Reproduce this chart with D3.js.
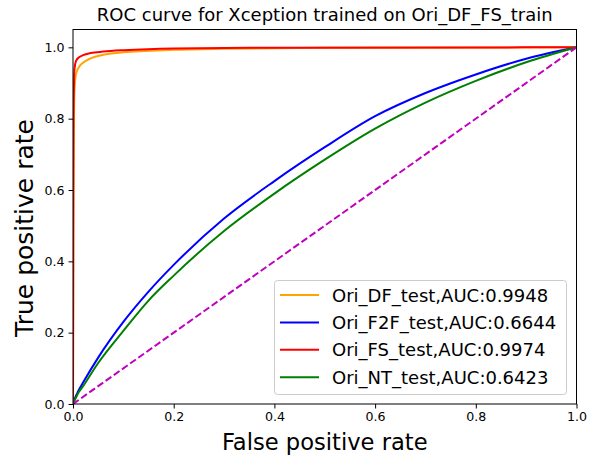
<!DOCTYPE html>
<html><head><meta charset="utf-8">
<script src="https://cdn.jsdelivr.net/npm/d3@7"></script>
<style>body{margin:0;background:#fff}svg{display:block;font-family:"DejaVu Sans",sans-serif}</style>
</head><body><div id="chart"></div>
<script>
const title = "ROC curve for Xception trained on Ori_DF_FS_train";
const xLabel = "False positive rate";
const yLabel = "True positive rate";
const tickValues = [0, 0.2, 0.4, 0.6, 0.8, 1.0];
const seriesNames = ["Ori_DF_test,AUC:0.9948", "Ori_F2F_test,AUC:0.6644", "Ori_FS_test,AUC:0.9974", "Ori_NT_test,AUC:0.6423"];
const seriesColors = ["#FFA500", "#0000FF", "#FF0000", "#008000"];
const dfFpr = [0, 0.0005, 0.001, 0.002, 0.003, 0.006, 0.012, 0.02, 0.035, 0.06, 0.1, 0.2, 0.3, 0.5, 1.0];
const dfTpr = [0, 0.3, 0.6, 0.8, 0.88, 0.925, 0.945, 0.957, 0.969, 0.979, 0.986, 0.993, 0.996, 0.999, 1.0];
const f2fFpr = [0, 0.005, 0.01, 0.02, 0.05, 0.1, 0.15, 0.2, 0.3, 0.4, 0.5, 0.6, 0.7, 0.8, 0.9, 1.0];
const f2fTpr = [0, 0.02, 0.035, 0.06, 0.13, 0.23, 0.315, 0.39, 0.52, 0.625, 0.72, 0.807, 0.872, 0.924, 0.968, 1.0];
const fsFpr = [0, 0.0005, 0.001, 0.002, 0.003, 0.006, 0.012, 0.02, 0.035, 0.06, 0.1, 0.2, 0.4, 1.0];
const fsTpr = [0, 0.5, 0.8, 0.9, 0.94, 0.962, 0.972, 0.978, 0.984, 0.988, 0.992, 0.997, 0.999, 1.0];
const ntFpr = [0, 0.005, 0.01, 0.02, 0.05, 0.1, 0.15, 0.2, 0.3, 0.4, 0.5, 0.6, 0.7, 0.8, 0.9, 1.0];
const ntTpr = [0, 0.015, 0.03, 0.05, 0.115, 0.205, 0.29, 0.36, 0.485, 0.59, 0.685, 0.772, 0.845, 0.906, 0.958, 1.0];
const chanceX = [0, 1];
const chanceY = [0, 1];

const W = 592, H = 459;
const L = 73, R = 576.5, T = 29.5, B = 404;
const svg = d3.select("#chart").append("svg").attr("width", W).attr("height", H);
const x = d3.scaleLinear().domain([0, 1]).range([L, R]);
const y = d3.scaleLinear().domain([0, 1.05]).range([B, T]);

const series = [
  {name: seriesNames[0], color: seriesColors[0], xs: dfFpr, ys: dfTpr},
  {name: seriesNames[1], color: seriesColors[1], xs: f2fFpr, ys: f2fTpr},
  {name: seriesNames[2], color: seriesColors[2], xs: fsFpr, ys: fsTpr},
  {name: seriesNames[3], color: seriesColors[3], xs: ntFpr, ys: ntTpr}
];

svg.append("defs").append("clipPath").attr("id", "clip")
  .append("rect").attr("x", L).attr("y", T).attr("width", R - L).attr("height", B - T);

const plot = svg.append("g").attr("clip-path", "url(#clip)");
const line = d3.line().x(d => x(d[0])).y(d => y(d[1])).curve(d3.curveMonotoneX);

series.forEach(s => {
  plot.append("path")
    .datum(s.xs.map((v, i) => [v, s.ys[i]]))
    .attr("d", line).attr("fill", "none")
    .attr("stroke", s.color).attr("stroke-width", 2).attr("stroke-linejoin", "round");
});
plot.append("path")
  .datum(chanceX.map((v, i) => [v, chanceY[i]]))
  .attr("d", d3.line().x(d => x(d[0])).y(d => y(d[1])))
  .attr("fill", "none").attr("stroke", "#BF00BF").attr("stroke-width", 2)
  .attr("stroke-dasharray", "7,3");

const fmt = d3.format(".1f");
const xAxis = svg.append("g").attr("transform", `translate(0,${B})`)
  .call(d3.axisBottom(x).tickValues(tickValues).tickFormat(fmt).tickSize(4.5).tickPadding(4));
const yAxis = svg.append("g").attr("transform", `translate(${L},0)`)
  .call(d3.axisLeft(y).tickValues(tickValues).tickFormat(fmt).tickSize(4.5).tickPadding(4));
[xAxis, yAxis].forEach(a => {
  a.select(".domain").remove();
  a.selectAll("text").attr("font-size", 12.6).attr("font-family", "DejaVu Sans").attr("fill", "#000");
  a.selectAll("line").attr("stroke", "#000").attr("stroke-width", 1);
});

svg.append("rect").attr("x", L).attr("y", T).attr("width", R - L).attr("height", B - T)
  .attr("fill", "none").attr("stroke", "#000").attr("stroke-width", 1);

svg.append("text").attr("x", (L + R) / 2).attr("y", 20.5).attr("text-anchor", "middle")
  .attr("font-size", 18).text(title);
svg.append("text").attr("x", (L + R) / 2).attr("y", 450).attr("text-anchor", "middle")
  .attr("font-size", 22.6).text(xLabel);
svg.append("text").attr("transform", "translate(33,228) rotate(-90)").attr("text-anchor", "middle")
  .attr("font-size", 25).text(yLabel);

const lg = svg.append("g");
lg.append("rect").attr("x", 274.5).attr("y", 280.5).attr("width", 292).attr("height", 114)
  .attr("rx", 3).attr("fill", "#fff").attr("fill-opacity", 0.8).attr("stroke", "#ccc").attr("stroke-width", 1);
series.forEach((s, i) => {
  const yy = 295 + i * 27.4;
  lg.append("line").attr("x1", 280).attr("x2", 319).attr("y1", yy).attr("y2", yy)
    .attr("stroke", s.color).attr("stroke-width", 2);
  lg.append("text").attr("x", 332).attr("y", yy + 6.5).attr("font-size", 18).text(s.name);
});
</script></body></html>
